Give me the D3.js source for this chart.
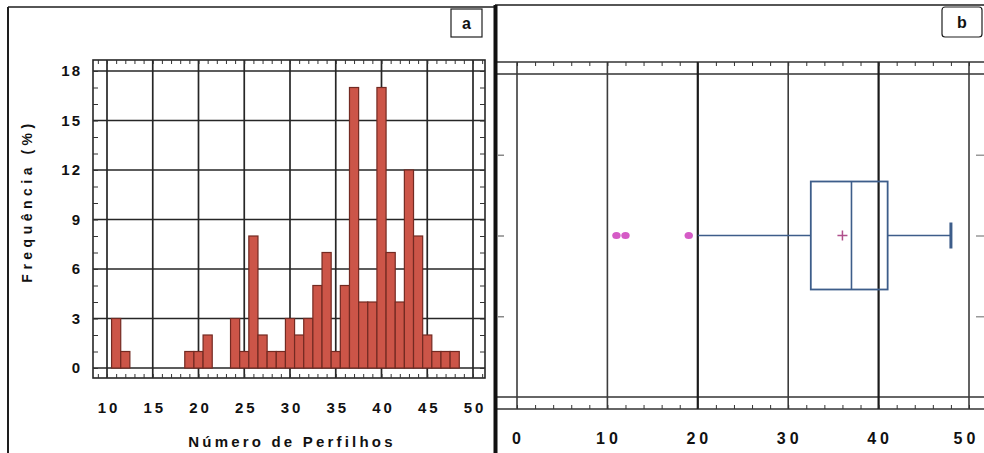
<!DOCTYPE html>
<html><head><meta charset="utf-8">
<script src="https://cdn.jsdelivr.net/npm/d3@7"></script>
<style>
body{margin:0;background:#fff}
svg{display:block}
text{font-family:"Liberation Sans",Arial,sans-serif;font-weight:bold;fill:#111}
</style>
</head><body>
<script>
// ---- data ----
const histBins = [11,12,19,20,21,24,25,26,27,28,29,30,31,32,33,34,35,36,37,38,39,40,41,42,43,44,45,46,47,48];
const histFreq = [3,1,1,1,2,3,1,8,2,1,1,3,2,3,5,7,1,5,17,4,4,17,7,4,12,8,2,1,1,1];
const xTicksA = [10,15,20,25,30,35,40,45,50];
const yTicksA = [0,3,6,9,12,15,18];
const xTicksB = [0,10,20,30,40,50];
const outliers = [11,12,19];
const whiskerLow = 20, q1 = 32.5, median = 37, mean = 36, q3 = 41, whiskerHigh = 48;
const xTitleA = "Número de Perfilhos";
const yTitleA = "Frequência (%)";
const panelLabels = ["a","b"];

const W = 984, H = 453;
const svg = d3.select("body").append("svg").attr("width", W).attr("height", H);
const ink = "#1e1e1e";

// ---- panel borders ----
svg.append("line").attr("x1",8).attr("y1",7).attr("x2",8).attr("y2",H).attr("stroke",ink).attr("stroke-width",2);
svg.append("line").attr("x1",8).attr("y1",7).attr("x2",495).attr("y2",7).attr("stroke",ink).attr("stroke-width",1.5);
svg.append("line").attr("x1",495).attr("y1",5).attr("x2",W).attr("y2",5).attr("stroke",ink).attr("stroke-width",1.5);

// ================= Panel a =================
const A = {l:93, r:485, t:60, b:378};
const xA = d3.scaleLinear().domain([10,50]).range([107,473]);
const yA = d3.scaleLinear().domain([0,18]).range([368,71]);
const gA = svg.append("g");

// grid
gA.selectAll("line.vg").data(xTicksA).join("line")
  .attr("x1",d=>xA(d)).attr("x2",d=>xA(d)).attr("y1",A.t).attr("y2",A.b)
  .attr("stroke","#262626").attr("stroke-width",1.7);
gA.selectAll("line.hg").data(yTicksA).join("line")
  .attr("x1",A.l).attr("x2",A.r).attr("y1",d=>yA(d)).attr("y2",d=>yA(d))
  .attr("stroke","#262626").attr("stroke-width",1.7);
gA.append("rect").attr("x",A.l).attr("y",A.t).attr("width",A.r-A.l).attr("height",A.b-A.t)
  .attr("fill","none").attr("stroke","#262626").attr("stroke-width",1.6);

// bars
gA.selectAll("rect.bar").data(histBins).join("rect")
  .attr("x",d=>xA(d-0.5)).attr("width",d=>xA(d+0.5)-xA(d-0.5))
  .attr("y",(d,i)=>yA(histFreq[i])).attr("height",(d,i)=>yA(0)-yA(histFreq[i]))
  .attr("fill","#cc5548").attr("stroke","#732a22").attr("stroke-width",1.2);

// minor ticks
function clean(g){ g.select(".domain").remove(); g.selectAll("line").attr("stroke","#333").attr("stroke-width",1); }
const minorX = d3.range(9,52);
const minorY = d3.range(0,19);
gA.append("g").attr("transform",`translate(0,${A.t})`).call(d3.axisBottom(xA).tickValues(minorX).tickSize(4).tickFormat("")).call(clean);
gA.append("g").attr("transform",`translate(0,${A.b})`).call(d3.axisTop(xA).tickValues(minorX).tickSize(4).tickFormat("")).call(clean);
gA.append("g").attr("transform",`translate(${A.l},0)`).call(d3.axisRight(yA).tickValues(minorY).tickSize(5).tickFormat("")).call(clean);
gA.append("g").attr("transform",`translate(${A.r},0)`).call(d3.axisLeft(yA).tickValues(minorY).tickSize(5).tickFormat("")).call(clean);

// tick labels
const xLabA = gA.append("g").attr("transform","translate(0,397)")
  .call(d3.axisBottom(xA).tickValues(xTicksA).tickSize(0).tickPadding(5).tickFormat(d3.format("d")));
xLabA.select(".domain").remove();
xLabA.selectAll("text").attr("font-size",15).attr("letter-spacing",3).attr("dx",1.5).attr("fill","#111");
const yLabA = gA.append("g").attr("transform",`translate(${A.l},0)`)
  .call(d3.axisLeft(yA).tickValues(yTicksA).tickSize(0).tickPadding(11).tickFormat(d3.format("d")));
yLabA.select(".domain").remove();
yLabA.selectAll("text").attr("font-size",15).attr("letter-spacing",2).attr("fill","#111");

// titles
gA.append("text").attr("x",292).attr("y",447).attr("text-anchor","middle")
  .attr("font-size",15).attr("letter-spacing",3.2).text(xTitleA);
gA.append("text").attr("transform","translate(32,201) rotate(-90)").attr("text-anchor","middle")
  .attr("font-size",14).attr("letter-spacing",4.5).text(yTitleA);

// panel label a
gA.append("rect").attr("x",451).attr("y",9).attr("width",31).attr("height",28)
  .attr("fill","#fff").attr("stroke",ink).attr("stroke-width",1.2);
gA.append("text").attr("x",466.5).attr("y",29).attr("text-anchor","middle").attr("font-size",16).text(panelLabels[0]);

// ================= Panel b =================
const B = {l:495, r:W, to:62, ti:74, bi:397, bo:409};
const xB = d3.scaleLinear().domain([0,50]).range([517,969]);
const yB = d3.scaleLinear().domain([0,4]).range([397,74]);
const gB = svg.append("g");

[B.to,B.ti,B.bi,B.bo].forEach(y=>{
  gB.append("line").attr("x1",B.l).attr("x2",B.r).attr("y1",y).attr("y2",y).attr("stroke","#333").attr("stroke-width",1.4);
});
gB.selectAll("line.vg").data(xTicksB).join("line")
  .attr("x1",d=>xB(d)).attr("x2",d=>xB(d)).attr("y1",B.to).attr("y2",B.bo)
  .attr("stroke",d=>(d===20||d===40)?"#1a1a1a":"#3c3c3c")
  .attr("stroke-width",d=>(d===20||d===40)?2.2:1.6);

const minorB = d3.range(0,54,2);
gB.append("g").attr("transform",`translate(0,${B.to})`).call(d3.axisBottom(xB).tickValues(minorB).tickSize(4).tickFormat("")).call(clean);
gB.append("g").attr("transform",`translate(0,${B.bo})`).call(d3.axisTop(xB).tickValues(minorB).tickSize(4).tickFormat("")).call(clean);
gB.append("g").attr("transform",`translate(498,0)`).call(d3.axisRight(yB).tickValues([1,2,3]).tickSize(6).tickFormat("")).call(g=>{g.select(".domain").remove();g.selectAll("line").attr("stroke","#888").attr("stroke-width",1.5);});
gB.append("g").attr("transform",`translate(${W},0)`).call(d3.axisLeft(yB).tickValues([1,2,3]).tickSize(8).tickFormat("")).call(g=>{g.select(".domain").remove();g.selectAll("line").attr("stroke","#999").attr("stroke-width",1.5);});

// box plot
const yc = yB(2), half = 54, cap = 13, boxCol = "#3d5d8a";
gB.append("line").attr("x1",xB(whiskerLow)).attr("x2",xB(q1)).attr("y1",yc).attr("y2",yc).attr("stroke",boxCol).attr("stroke-width",1.6);
gB.append("line").attr("x1",xB(q3)).attr("x2",xB(whiskerHigh)).attr("y1",yc).attr("y2",yc).attr("stroke",boxCol).attr("stroke-width",1.6);
gB.append("line").attr("x1",xB(whiskerHigh)).attr("x2",xB(whiskerHigh)).attr("y1",yc-cap).attr("y2",yc+cap).attr("stroke",boxCol).attr("stroke-width",3);
gB.append("rect").attr("x",xB(q1)).attr("y",yc-half).attr("width",xB(q3)-xB(q1)).attr("height",2*half)
  .attr("fill","none").attr("stroke",boxCol).attr("stroke-width",1.8);
gB.append("line").attr("x1",xB(median)).attr("x2",xB(median)).attr("y1",yc-half).attr("y2",yc+half).attr("stroke",boxCol).attr("stroke-width",1.6);
gB.append("path").attr("d",`M${xB(mean)-5},${yc}h10M${xB(mean)},${yc-5}v10`).attr("stroke","#b0508c").attr("stroke-width",1.5);
gB.selectAll("ellipse.out").data(outliers).join("ellipse")
  .attr("cx",d=>xB(d)).attr("cy",yc).attr("rx",4.2).attr("ry",3.6).attr("fill","#d55bc6");

// labels b
const xLabB = gB.append("g").attr("transform","translate(0,428)")
  .call(d3.axisBottom(xB).tickValues(xTicksB).tickSize(0).tickPadding(5).tickFormat(d3.format("d")));
xLabB.select(".domain").remove();
xLabB.selectAll("text").attr("font-size",16).attr("letter-spacing",4).attr("dx",(d,i)=>d===50?-3:1).attr("fill","#111");

gB.append("rect").attr("x",942).attr("y",7).attr("width",40).attr("height",30).attr("rx",3)
  .attr("fill","#fff").attr("stroke",ink).attr("stroke-width",1.2);
gB.append("text").attr("x",962).attr("y",28).attr("text-anchor","middle").attr("font-size",16).text(panelLabels[1]);

// thick divider between panels
svg.append("line").attr("x1",495.5).attr("y1",5).attr("x2",495.5).attr("y2",H).attr("stroke","#111").attr("stroke-width",4);
</script>
</body></html>
